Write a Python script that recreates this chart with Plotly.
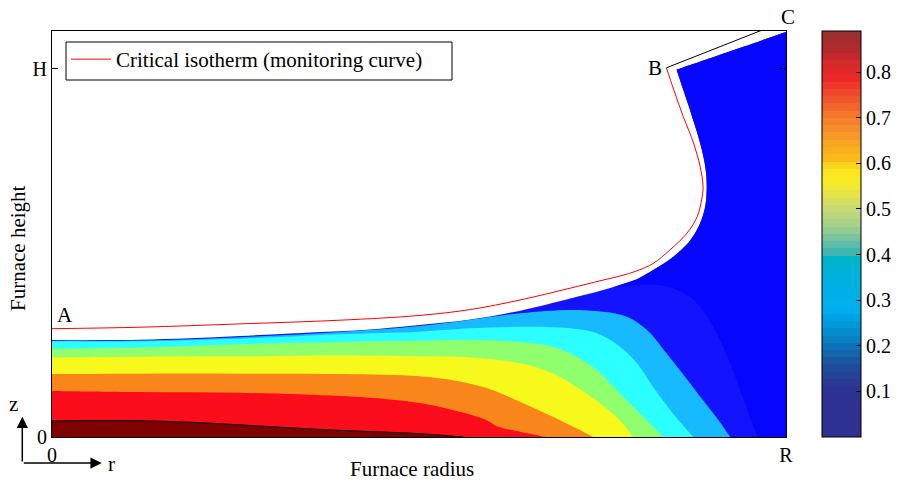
import plotly.graph_objects as go

# ---------------------------------------------------------------
# Melt-pool geometry: r in units of the furnace radius R, z in units of H
# ---------------------------------------------------------------
surface_r = [0.000, 0.065, 0.120, 0.188, 0.256, 0.324, 0.392, 0.447, 0.501, 0.570,
             0.638, 0.706, 0.751, 0.797, 0.819, 0.847, 0.870, 0.883, 0.890, 0.892,
             0.890, 0.883, 0.872, 0.860, 0.851, 1.000]
surface_z = [0.263, 0.263, 0.264, 0.268, 0.274, 0.281, 0.287, 0.294, 0.304, 0.319,
             0.343, 0.376, 0.399, 0.428, 0.453, 0.490, 0.535, 0.580, 0.626, 0.680,
             0.734, 0.798, 0.870, 0.943, 0.997, 1.099]

# critical isotherm (monitoring curve), from A on the axis up to B
isotherm_r = [0.000, 0.120, 0.256, 0.392, 0.501, 0.570, 0.638, 0.706, 0.751, 0.774,
              0.797, 0.819, 0.842, 0.865, 0.879, 0.885, 0.887, 0.883, 0.874, 0.860,
              0.847, 0.837]
isotherm_z = [0.294, 0.298, 0.307, 0.317, 0.330, 0.346, 0.372, 0.404, 0.426, 0.437,
              0.451, 0.471, 0.508, 0.553, 0.598, 0.644, 0.680, 0.734, 0.798, 0.870,
              0.943, 1.002]

# wall segment B -> C
wall_r = [0.837, 1.000]
wall_z = [1.002, 1.130]

# temperature contour lines (each runs from the axis down to the bottom)
core_r = [0.000, 0.120, 0.188, 0.256, 0.324, 0.392, 0.501, 0.560]
core_z = [0.044, 0.044, 0.040, 0.033, 0.025, 0.018, 0.009, 0.000]

red_r = [0.000, 0.120, 0.256, 0.392, 0.460, 0.501, 0.546, 0.593, 0.606, 0.628, 0.672]
red_z = [0.125, 0.122, 0.120, 0.111, 0.102, 0.092, 0.073, 0.045, 0.029, 0.018, 0.000]

orange_r = [0.000, 0.120, 0.256, 0.392, 0.501, 0.546, 0.593, 0.638, 0.683, 0.715, 0.737]
orange_z = [0.171, 0.172, 0.172, 0.171, 0.165, 0.154, 0.132, 0.095, 0.054, 0.023, 0.000]

yellow_r = [0.000, 0.120, 0.256, 0.392, 0.501, 0.570, 0.638, 0.683, 0.715, 0.747, 0.774, 0.792]
yellow_z = [0.216, 0.218, 0.219, 0.221, 0.219, 0.216, 0.200, 0.172, 0.136, 0.091, 0.045, 0.000]

green_r = [0.000, 0.120, 0.256, 0.392, 0.501, 0.570, 0.638, 0.683, 0.715, 0.743, 0.765,
           0.792, 0.815, 0.833]
green_z = [0.240, 0.243, 0.252, 0.258, 0.261, 0.263, 0.258, 0.245, 0.218, 0.181, 0.136,
           0.082, 0.036, 0.000]

cyan_r = [0.000, 0.120, 0.256, 0.392, 0.501, 0.570, 0.638, 0.706, 0.743, 0.774, 0.797,
          0.819, 0.846, 0.874]
cyan_z = [0.260, 0.260, 0.267, 0.279, 0.286, 0.295, 0.299, 0.295, 0.281, 0.245, 0.200,
          0.136, 0.064, 0.000]

sky_r = [0.000, 0.120, 0.256, 0.392, 0.501, 0.570, 0.638, 0.706, 0.751, 0.784, 0.811,
         0.838, 0.865, 0.890, 0.910, 0.924]
sky_z = [0.261, 0.262, 0.271, 0.285, 0.301, 0.318, 0.336, 0.345, 0.340, 0.326, 0.290,
         0.225, 0.157, 0.092, 0.040, 0.000]

# coldest contour: starts on the free surface and ends on the bottom
outer_r = [0.763, 0.788, 0.819, 0.849, 0.874, 0.894, 0.910, 0.925, 0.939, 0.950, 0.961]
outer_z = [0.406, 0.411, 0.413, 0.402, 0.372, 0.323, 0.263, 0.195, 0.119, 0.059, 0.000]

# colour bar
cbar_max = 0.89
cbar_ticks = [0.1, 0.2, 0.3, 0.4, 0.5, 0.6, 0.7, 0.8]
cbar_ticktext = ["0.1", "0.2", "0.3", "0.4", "0.5", "0.6", "0.7", "0.8"]
cbar_anchor_v = [0.0, 0.10, 0.13, 0.157, 0.18, 0.208, 0.245, 0.282, 0.36, 0.39, 0.405,
                 0.436, 0.464, 0.50, 0.53, 0.559, 0.59, 0.611, 0.64, 0.668, 0.705,
                 0.734, 0.77, 0.79, 0.815, 0.837, 0.86, 0.89]
cbar_anchor_c = ["#2e3192", "#2e3192", "#273f94", "#1e4f9c", "#1461a8", "#0a7bc0",
                 "#0098d8", "#00aeef", "#00b2db", "#00b4c8", "#3fb7b0", "#77c4a0",
                 "#a4d18a", "#c6da74", "#e2e34a", "#f8ed21", "#fde020", "#fbbb17",
                 "#f8a81f", "#f5922a", "#f3782a", "#f05a2a", "#ee3a2a", "#ec2327",
                 "#d82a2a", "#c2272d", "#a82c2c", "#983030"]

# axis ticks
r_ticks, r_ticktext = [0, 1], ["0", "R"]
z_ticks, z_ticktext = [0, 1], ["0", "H"]
z_top = 1.102

FONT = "Liberation Serif, Times New Roman, serif"
W, H_PX = 899, 485
ML, MR, MT, MB = 52, 113, 31, 48
PW, PH = W - ML - MR, H_PX - MT - MB


def to_paper(px, py):
    return (px - ML) / PW, (H_PX - MB - py) / PH


def hex_rgb(h):
    return tuple(int(h[i:i + 2], 16) for i in (1, 3, 5))


def colour_at(v):
    for i in range(len(cbar_anchor_v) - 1):
        a, b = cbar_anchor_v[i], cbar_anchor_v[i + 1]
        if a <= v <= b:
            t = 0 if b == a else (v - a) / (b - a)
            ca, cb = hex_rgb(cbar_anchor_c[i]), hex_rgb(cbar_anchor_c[i + 1])
            return "rgb(%d,%d,%d)" % tuple(round(ca[k] + t * (cb[k] - ca[k])) for k in range(3))
    return cbar_anchor_c[-1]


# stepped colour scale for the colour bar
n_steps = 56
colorscale = []
for i in range(n_steps):
    c = colour_at((i + 0.5) / n_steps * cbar_max)
    colorscale.append([i / n_steps, c])
    colorscale.append([(i + 1) / n_steps, c])

fig = go.Figure()


def path(*pieces):
    """Join smooth pieces and corner points; corners are repeated so the
    spline keeps them sharp and the edges between them straight."""
    xs, ys = [], []
    for kind, px, py in pieces:
        if kind == "corner":
            xs += [px, px]
            ys += [py, py]
        else:
            xs += list(px)
            ys += list(py)
    return xs, ys


def band(xs, ys, colour):
    fig.add_trace(go.Scatter(x=xs, y=ys, mode="lines", fill="toself", fillcolor=colour,
                             line=dict(width=0, shape="spline", smoothing=1, simplify=False),
                             showlegend=False, hoverinfo="skip"))


# whole liquid domain (under the free surface)
band(*path(("smooth", surface_r[:-1], surface_z[:-1]),
           ("corner", surface_r[-2], surface_z[-2]),
           ("corner", surface_r[-1], surface_z[-1]),
           ("corner", 1.0, 0.0),
           ("corner", 0.0, 0.0)), "#1313ff")

# outer cold region, bounded by the free surface up to C
start = next(i for i, r in enumerate(surface_r) if r > outer_r[0])
band(*path(("smooth", outer_r[:-1], outer_z[:-1]),
           ("corner", outer_r[-1], outer_z[-1]),
           ("corner", 1.0, 0.0),
           ("corner", surface_r[-1], surface_z[-1]),
           ("corner", surface_r[-2], surface_z[-2]),
           ("smooth", surface_r[start:-2][::-1], surface_z[start:-2][::-1])), "#0606ff")

# nested bands from cold to hot
for xs, ys, col in [(sky_r, sky_z, "#17b9ff"),
                    (cyan_r, cyan_z, "#2bffff"),
                    (green_r, green_z, "#8fff6e"),
                    (yellow_r, yellow_z, "#f7f81c"),
                    (orange_r, orange_z, "#f8861a"),
                    (red_r, red_z, "#fb0d1b"),
                    (core_r, core_z, "#7e0000")]:
    band(*path(("corner", xs[0], ys[0]),
               ("smooth", xs[1:-1], ys[1:-1]),
               ("corner", xs[-1], ys[-1]),
               ("corner", 0.0, 0.0)), col)

# outline of the hottest core
fig.add_trace(go.Scatter(x=core_r, y=core_z, mode="lines",
                         line=dict(color="black", width=1, shape="spline"),
                         showlegend=False, hoverinfo="skip"))

# wall B-C
fig.add_trace(go.Scatter(x=wall_r, y=wall_z, mode="lines", line=dict(color="black", width=1),
                         showlegend=False, hoverinfo="skip"))

# critical isotherm
fig.add_trace(go.Scatter(x=isotherm_r, y=isotherm_z, mode="lines",
                         line=dict(color="#ff0000", width=1, shape="spline"),
                         name="Critical isotherm (monitoring curve)", hoverinfo="skip"))

# colour bar carrier
cb_x, _ = to_paper(822, 0)
fig.add_trace(go.Scatter(
    x=[None], y=[None], mode="markers", showlegend=False, hoverinfo="skip",
    marker=dict(color=[0], colorscale=colorscale, cmin=0, cmax=cbar_max, showscale=True,
                colorbar=dict(x=cb_x, xanchor="left", y=0.5, yanchor="middle", len=1,
                              lenmode="fraction", thickness=39, thicknessmode="pixels",
                              xpad=0, ypad=0, outlinewidth=1, outlinecolor="black",
                              tickmode="array", tickvals=cbar_ticks, ticktext=cbar_ticktext,
                              ticks="inside", ticklen=5, tickcolor="black",
                              tickfont=dict(family=FONT, size=20, color="black")))))

shapes = []
# tick marks on the left edge of the colour bar
for v in cbar_ticks:
    shapes.append(dict(type="line", xref="paper", yref="paper", x0=cb_x, x1=cb_x + 5 / PW,
                       y0=v / cbar_max, y1=v / cbar_max, line=dict(color="black", width=1)))

# legend frame
lx0, ly0 = to_paper(66, 80)
lx1, ly1 = to_paper(452, 42)
shapes.append(dict(type="rect", xref="paper", yref="paper", x0=lx0, x1=lx1, y0=ly0, y1=ly1,
                   line=dict(color="black", width=1), fillcolor="white", layer="above"))

annotations = []


def label(text, px, py, size=21, **kw):
    x, y = to_paper(px, py)
    annotations.append(dict(text=text, x=x, y=y, xref="paper", yref="paper", showarrow=False,
                            xanchor="center", yanchor="middle",
                            font=dict(family=FONT, size=size, color="black"), **kw))


label("A", 64.5, 315)
label("B", 655, 68)
label("C", 787.5, 17)
label("Furnace radius", 411.5, 469)
label("Furnace height", 18.7, 248.3, textangle=-90)
label("z", 13.5, 404)
label("r", 111, 463.5)

# coordinate arrows
for tip, off in [((22.3, 416.7), (0, 46.3)), ((101.7, 463), (-79.4, 0))]:
    x, y = to_paper(*tip)
    annotations.append(dict(x=x, y=y, xref="paper", yref="paper", ax=off[0], ay=off[1],
                            showarrow=True, arrowhead=2, arrowsize=1.5, arrowwidth=1.5,
                            arrowcolor="black", text=""))

axis_common = dict(showline=True, linecolor="black", linewidth=1, mirror="ticks",
                   ticks="inside", ticklen=6, tickcolor="black", showgrid=False,
                   zeroline=False, tickfont=dict(family=FONT, size=20, color="black"),
                   tickmode="array")

legend_x, _ = to_paper(66, 0)
_, legend_y = to_paper(0, 39)

fig.update_layout(
    width=W, height=H_PX,
    margin=dict(l=ML, r=MR, t=MT, b=MB, autoexpand=False),
    paper_bgcolor="white", plot_bgcolor="white",
    xaxis=dict(range=[0, 1], tickvals=r_ticks, ticktext=r_ticktext, **axis_common),
    yaxis=dict(range=[0, z_top], tickvals=z_ticks, ticktext=z_ticktext, **axis_common),
    legend=dict(x=legend_x, y=legend_y, xanchor="left", yanchor="top",
                borderwidth=0, bgcolor="rgba(0,0,0,0)",
                font=dict(family=FONT, size=21, color="black"), itemwidth=40),
    shapes=shapes, annotations=annotations,
    font=dict(family=FONT, color="black"),
)

fig.write_html("out.html")
